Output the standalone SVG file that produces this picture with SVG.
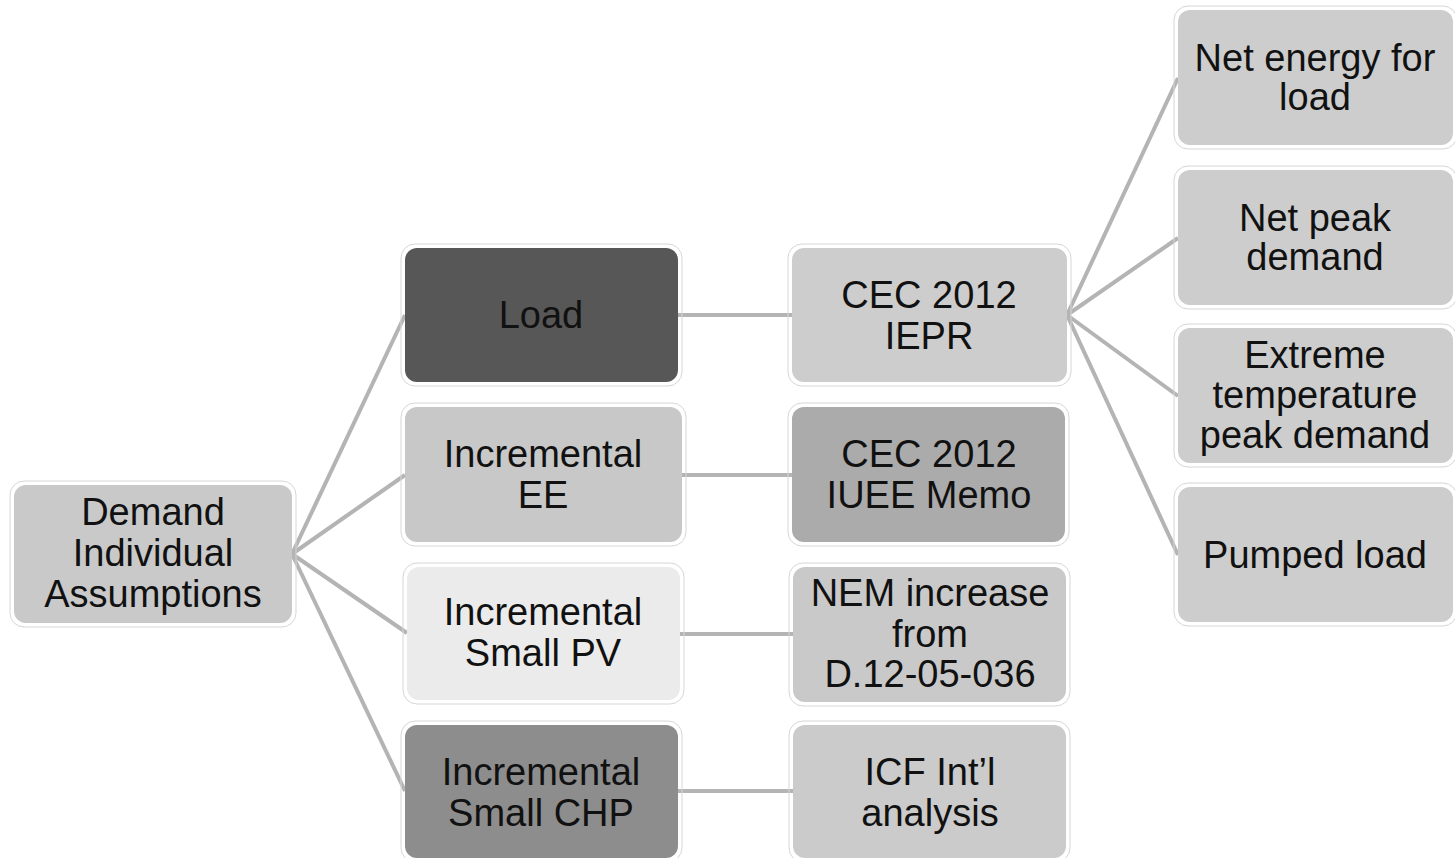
<svg xmlns="http://www.w3.org/2000/svg" width="1455" height="858" viewBox="0 0 1455 858">
<style>
.box{stroke:none}
.halo{fill:none;stroke:#d6d6d6;stroke-width:1}
.t{font-family:"Liberation Sans",Arial,sans-serif;font-size:38px;fill:#111;text-anchor:middle}
.c{stroke:#b4b4b4;stroke-width:4;fill:none;stroke-linecap:butt}
</style>
<rect width="1455" height="858" fill="#ffffff"/>
<g id="connectors">
<line class="c" x1="292" y1="554" x2="405" y2="315"/>
<line class="c" x1="292" y1="554" x2="405" y2="475"/>
<line class="c" x1="292" y1="554" x2="407" y2="633"/>
<line class="c" x1="292" y1="554" x2="405" y2="791"/>
<line class="c" x1="678" y1="315" x2="792" y2="315"/>
<line class="c" x1="682" y1="475" x2="792" y2="475"/>
<line class="c" x1="680" y1="634" x2="793" y2="634"/>
<line class="c" x1="678" y1="791" x2="793" y2="791"/>
<line class="c" x1="1067" y1="315" x2="1178" y2="78"/>
<line class="c" x1="1067" y1="315" x2="1178" y2="238"/>
<line class="c" x1="1067" y1="315" x2="1178" y2="396"/>
<line class="c" x1="1067" y1="315" x2="1178" y2="555"/>
</g>
<g id="n-demand">
<rect class="halo" x="10" y="481" width="286" height="146" rx="14"/>
<rect class="box" x="14" y="485" width="278" height="138" rx="12" fill="#c9c9c9"/>
<text class="t"><tspan x="153" y="525">Demand</tspan><tspan x="153" y="566">Individual</tspan><tspan x="153" y="607">Assumptions</tspan></text>
</g>
<g id="n-load">
<rect class="halo" x="401" y="244" width="281" height="142" rx="14"/>
<rect class="box" x="405" y="248" width="273" height="134" rx="12" fill="#575757"/>
<text class="t"><tspan x="541" y="328">Load</tspan></text>
</g>
<g id="n-ee">
<rect class="halo" x="401" y="403" width="285" height="143" rx="14"/>
<rect class="box" x="405" y="407" width="277" height="135" rx="12" fill="#c8c8c8"/>
<text class="t"><tspan x="543" y="467">Incremental</tspan><tspan x="543" y="508">EE</tspan></text>
</g>
<g id="n-pv">
<rect class="halo" x="403" y="563" width="281" height="141" rx="14"/>
<rect class="box" x="407" y="567" width="273" height="133" rx="12" fill="#ebebeb"/>
<text class="t"><tspan x="543" y="625">Incremental</tspan><tspan x="543" y="666">Small PV</tspan></text>
</g>
<g id="n-chp">
<rect class="halo" x="401" y="721" width="281" height="141" rx="14"/>
<rect class="box" x="405" y="725" width="273" height="133" rx="12" fill="#8d8d8d"/>
<text class="t"><tspan x="541" y="785">Incremental</tspan><tspan x="541" y="826">Small CHP</tspan></text>
</g>
<g id="n-iepr">
<rect class="halo" x="788" y="244" width="283" height="142" rx="14"/>
<rect class="box" x="792" y="248" width="275" height="134" rx="12" fill="#cdcdcd"/>
<text class="t"><tspan x="929" y="308">CEC 2012</tspan><tspan x="929" y="349">IEPR</tspan></text>
</g>
<g id="n-iuee">
<rect class="halo" x="788" y="403" width="281" height="143" rx="14"/>
<rect class="box" x="792" y="407" width="273" height="135" rx="12" fill="#ababab"/>
<text class="t"><tspan x="929" y="467">CEC 2012</tspan><tspan x="929" y="508">IUEE Memo</tspan></text>
</g>
<g id="n-nem">
<rect class="halo" x="789" y="563" width="281" height="143" rx="14"/>
<rect class="box" x="793" y="567" width="273" height="135" rx="12" fill="#c9c9c9"/>
<text class="t"><tspan x="930" y="606">NEM increase</tspan><tspan x="930" y="647">from</tspan><tspan x="930" y="687">D.12-05-036</tspan></text>
</g>
<g id="n-icf">
<rect class="halo" x="789" y="721" width="281" height="141" rx="14"/>
<rect class="box" x="793" y="725" width="273" height="133" rx="12" fill="#cbcbcb"/>
<text class="t"><tspan x="930" y="785">ICF Int’l</tspan><tspan x="930" y="826">analysis</tspan></text>
</g>
<g id="n-nel">
<rect class="halo" x="1174" y="6" width="283" height="143" rx="14"/>
<rect class="box" x="1178" y="10" width="275" height="135" rx="12" fill="#cdcdcd"/>
<text class="t"><tspan x="1315" y="71">Net energy  for</tspan><tspan x="1315" y="110">load</tspan></text>
</g>
<g id="n-npd">
<rect class="halo" x="1174" y="166" width="283" height="143" rx="14"/>
<rect class="box" x="1178" y="170" width="275" height="135" rx="12" fill="#cdcdcd"/>
<text class="t"><tspan x="1315" y="231">Net peak</tspan><tspan x="1315" y="270">demand</tspan></text>
</g>
<g id="n-ext">
<rect class="halo" x="1174" y="324" width="283" height="143" rx="14"/>
<rect class="box" x="1178" y="328" width="275" height="135" rx="12" fill="#cdcdcd"/>
<text class="t"><tspan x="1315" y="368">Extreme</tspan><tspan x="1315" y="408">temperature</tspan><tspan x="1315" y="448">peak  demand</tspan></text>
</g>
<g id="n-pump">
<rect class="halo" x="1174" y="483" width="283" height="143" rx="14"/>
<rect class="box" x="1178" y="487" width="275" height="135" rx="12" fill="#cdcdcd"/>
<text class="t"><tspan x="1315" y="568">Pumped load</tspan></text>
</g>
</svg>
